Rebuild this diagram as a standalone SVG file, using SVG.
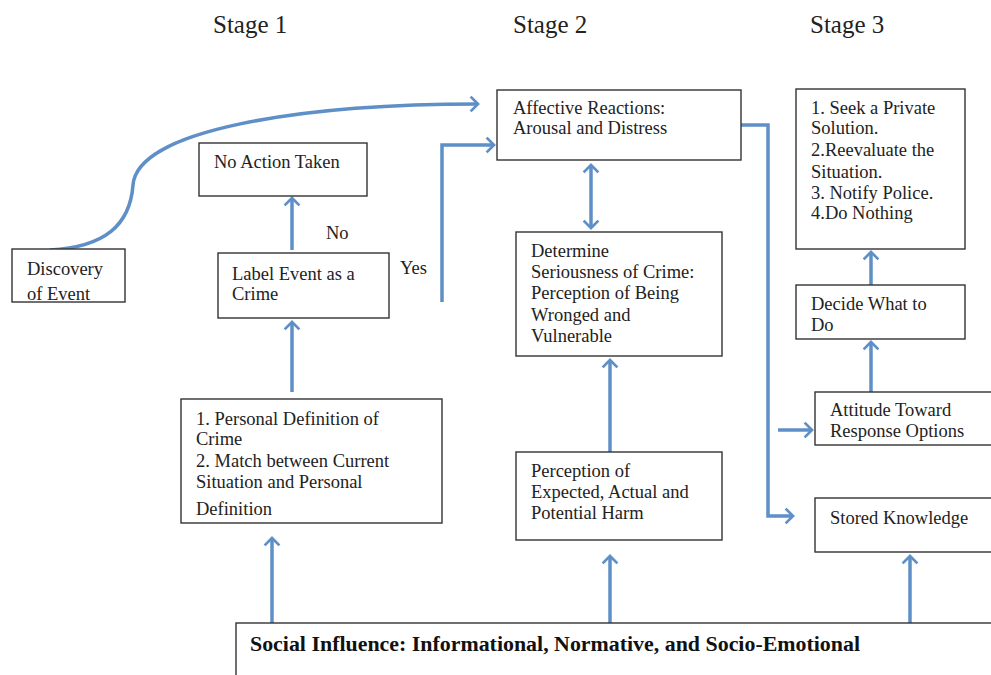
<svg xmlns="http://www.w3.org/2000/svg" width="991" height="675" viewBox="0 0 991 675">
<style>
.box{fill:#fff;stroke:#333;stroke-width:1.4}
.t{font-family:"Liberation Serif","DejaVu Serif",serif;font-size:18.5px;fill:#222}
.h{font-family:"Liberation Serif","DejaVu Serif",serif;font-size:25px;fill:#222}
.b{font-family:"Liberation Serif","DejaVu Serif",serif;font-size:20px;font-weight:bold;fill:#111}
.c{fill:none;stroke:#5E8FC6;stroke-width:3.5}
</style>
<defs>
<marker id="ah" viewBox="-10 -10 20 20" markerWidth="6.5" markerHeight="6.5" refX="0" refY="0" orient="auto" markerUnits="strokeWidth">
<path d="M-6.5,-6.5 L0,0 L-6.5,6.5" fill="none" stroke="#5E8FC6" stroke-width="2.4"/>
</marker>
<marker id="as" viewBox="-10 -10 20 20" markerWidth="6.5" markerHeight="6.5" refX="0" refY="0" orient="auto-start-reverse" markerUnits="strokeWidth">
<path d="M-6.5,-6.5 L0,0 L-6.5,6.5" fill="none" stroke="#5E8FC6" stroke-width="2.4"/>
</marker>
</defs>
<rect width="991" height="675" fill="#fff"/>
<g id="titles">
<text class="h" x="213" y="33">Stage 1</text>
<text class="h" x="513" y="33">Stage 2</text>
<text class="h" x="810" y="33">Stage 3</text>
</g>
<g id="connectors">
<path class="c" d="M50,250 C105,247 130,225 133,185 C137,130 300,104 478,104" marker-end="url(#ah)"/>
<path class="c" d="M292,250 L292,198" marker-end="url(#ah)"/>
<path class="c" d="M442,302 L442,145 L494,145" marker-end="url(#ah)"/>
<path class="c" d="M292,392 L292,322" marker-end="url(#ah)"/>
<path class="c" d="M272,623 L272,538" marker-end="url(#ah)"/>
<path class="c" d="M591,165 L591,228" marker-start="url(#as)" marker-end="url(#as)"/>
<path class="c" d="M610,452 L610,360" marker-end="url(#ah)"/>
<path class="c" d="M610,623 L610,556" marker-end="url(#ah)"/>
<path class="c" d="M910,623 L910,556" marker-end="url(#ah)"/>
<path class="c" d="M741,125 L768,125 L768,516 L793,516" marker-end="url(#ah)"/>
<path class="c" d="M778,430 L812,430" marker-end="url(#ah)"/>
<path class="c" d="M871,392 L871,342" marker-end="url(#ah)"/>
<path class="c" d="M871,285 L871,252" marker-end="url(#ah)"/>
<text class="t" x="326" y="239">No</text>
<text class="t" x="400" y="274">Yes</text>
</g>
<g id="discovery">
<rect class="box" x="12" y="249" width="113" height="53"/>
<text class="t" x="27" y="275">Discovery</text>
<text class="t" x="27" y="300">of Event</text>
</g>
<g id="noaction">
<rect class="box" x="199" y="143" width="168" height="53"/>
<text class="t" x="214" y="168">No Action Taken</text>
</g>
<g id="label">
<rect class="box" x="218" y="253" width="171" height="65"/>
<text class="t" x="232" y="280">Label Event as a</text>
<text class="t" x="232" y="300">Crime</text>
</g>
<g id="personal">
<rect class="box" x="181" y="399" width="261" height="124"/>
<text class="t" x="196" y="425">1. Personal Definition of</text>
<text class="t" x="196" y="445">Crime</text>
<text class="t" x="196" y="467">2. Match between Current</text>
<text class="t" x="196" y="488">Situation and Personal</text>
<text class="t" x="196" y="515">Definition</text>
</g>
<g id="affective">
<rect class="box" x="497" y="90" width="244" height="70"/>
<text class="t" x="513" y="114">Affective Reactions:</text>
<text class="t" x="513" y="134">Arousal and Distress</text>
</g>
<g id="determine">
<rect class="box" x="516" y="232" width="206" height="124"/>
<text class="t" x="531" y="257">Determine</text>
<text class="t" x="531" y="278">Seriousness of Crime:</text>
<text class="t" x="531" y="299">Perception of Being</text>
<text class="t" x="531" y="321">Wronged and</text>
<text class="t" x="531" y="342">Vulnerable</text>
</g>
<g id="perception">
<rect class="box" x="516" y="452" width="206" height="88"/>
<text class="t" x="531" y="477">Perception of</text>
<text class="t" x="531" y="498">Expected, Actual and</text>
<text class="t" x="531" y="519">Potential Harm</text>
</g>
<g id="options">
<rect class="box" x="796" y="89" width="169" height="160"/>
<text class="t" x="811" y="114">1. Seek a Private</text>
<text class="t" x="811" y="134">Solution.</text>
<text class="t" x="811" y="156">2.Reevaluate the</text>
<text class="t" x="811" y="178">Situation.</text>
<text class="t" x="811" y="199">3. Notify Police.</text>
<text class="t" x="811" y="219">4.Do Nothing</text>
</g>
<g id="decide">
<rect class="box" x="796" y="285" width="169" height="54"/>
<text class="t" x="811" y="310">Decide What to</text>
<text class="t" x="811" y="331">Do</text>
</g>
<g id="attitude">
<rect class="box" x="815" y="392" width="180" height="53"/>
<text class="t" x="830" y="416">Attitude Toward</text>
<text class="t" x="830" y="437">Response Options</text>
</g>
<g id="stored">
<rect class="box" x="815" y="498" width="180" height="54"/>
<text class="t" x="830" y="524">Stored Knowledge</text>
</g>
<g id="social">
<rect class="box" x="236" y="623" width="760" height="60"/>
<text class="b" x="250" y="651" textLength="610" lengthAdjust="spacingAndGlyphs">Social Influence: Informational, Normative, and Socio-Emotional</text>
</g>
</svg>
